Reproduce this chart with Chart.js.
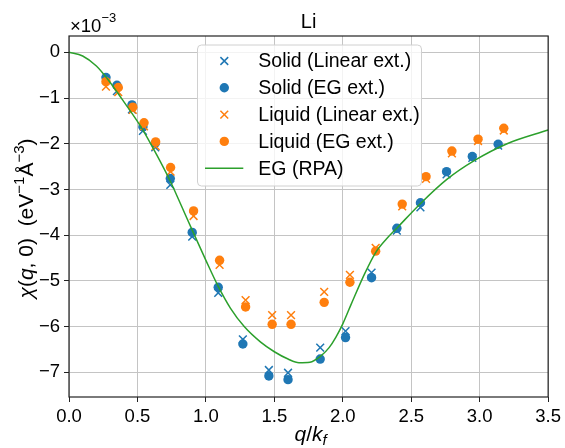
<!DOCTYPE html>
<html>
<head>
<meta charset="utf-8">
<script src="https://cdn.jsdelivr.net/npm/chart.js@4"></script>
<style>
  html, body { margin: 0; padding: 0; background: #fff; }
  #wrap { width: 565px; height: 448px; }
</style>
</head>
<body>
<div id="wrap"><canvas id="chart" width="565" height="448"></canvas></div>
<script>
const FONT = "'Liberation Sans', Arial, sans-serif";

// values (chi in units of 1e-3)
const solidQ = [0.27, 0.35, 0.46, 0.54, 0.63, 0.74, 0.90, 1.09, 1.27, 1.46, 1.60, 1.835, 2.02, 2.21, 2.395, 2.567, 2.758, 2.946, 3.135];
const solidLinear = [-0.60, -0.85, -1.25, -1.72, -2.08, -2.90, -4.03, -5.26, -6.28, -6.95, -7.01, -6.46, -6.10, -4.82, -3.90, -3.39, -2.67, -2.31, -2.04];
const solidEG = [-0.55, -0.72, -1.15, -1.63, -1.99, -2.76, -3.94, -5.14, -6.38, -7.08, -7.16, -6.71, -6.24, -4.93, -3.85, -3.29, -2.61, -2.28, -2.01];

const liquidQ = [0.27, 0.36, 0.466, 0.548, 0.633, 0.742, 0.91, 1.10, 1.29, 1.484, 1.622, 1.864, 2.052, 2.24, 2.434, 2.608, 2.797, 2.988, 3.176];
const liquidLinear = [-0.75, -0.87, -1.26, -1.62, -2.05, -2.61, -3.58, -4.65, -5.42, -5.75, -5.75, -5.24, -4.87, -4.28, -3.37, -2.77, -2.21, -1.94, -1.71];
const liquidEG = [-0.64, -0.77, -1.20, -1.54, -1.96, -2.52, -3.47, -4.55, -5.57, -5.95, -5.95, -5.47, -5.03, -4.35, -3.32, -2.72, -2.16, -1.90, -1.66];

const rpaQ = [0, 0.1, 0.2, 0.28, 0.4, 0.54, 0.64, 0.74, 0.82, 0.9, 1.0, 1.09, 1.18, 1.28, 1.4, 1.5, 1.6, 1.68, 1.76, 1.84, 1.9, 1.95, 2.0, 2.06, 2.16, 2.24, 2.32, 2.4, 2.57, 2.76, 2.96, 3.2, 3.5];
const rpaChi = [0, -0.08, -0.30, -0.58, -1.08, -1.70, -2.24, -2.82, -3.35, -3.89, -4.55, -5.12, -5.60, -6.00, -6.34, -6.55, -6.71, -6.79, -6.78, -6.64, -6.46, -6.23, -5.94, -5.52, -4.84, -4.38, -4.08, -3.83, -3.30, -2.78, -2.37, -2.00, -1.70];

const xTicks = [0, 0.5, 1.0, 1.5, 2.0, 2.5, 3.0, 3.5];
const yTicks = [0, -1, -2, -3, -4, -5, -6, -7];
const seriesNames = ["Solid (Linear ext.)", "Solid (EG ext.)", "Liquid (Linear ext.)", "Liquid (EG ext.)", "EG (RPA)"];

const BLUE = "#1f77b4", ORANGE = "#ff7f0e", GREEN = "#2ca02c";

function pts(xs, ys) {
  return xs.map((x, i) => ({ x: x, y: ys[i] }));
}

function cross(label, data, color, order) {
  return { label, data, order, pointStyle: "crossRot", pointRadius: 5.5, pointBorderWidth: 1.5,
    borderColor: color, backgroundColor: color, pointHoverRadius: 5.5 };
}
function dot(label, data, color, order) {
  return { label, data, order, pointStyle: "circle", pointRadius: 4.7, pointBorderWidth: 0,
    borderWidth: 0, borderColor: color, backgroundColor: color, pointHoverRadius: 4.7 };
}

// draws a run of text pieces (for super/subscripts)
function drawRuns(ctx, parts, x, y, align) {
  let total = 0;
  parts.forEach((p) => {
    ctx.font = p.font;
    p.w = ctx.measureText(p.t).width;
    total += p.w;
  });
  let cx = align === "center" ? x - total / 2 : x;
  parts.forEach((p) => {
    ctx.font = p.font;
    ctx.fillText(p.t, cx, y + (p.dy || 0));
    cx += p.w;
  });
}

const frame = {
  id: "frame",
  afterDatasetsDraw(chart) {
    const { ctx, chartArea: a } = chart;
    ctx.save();
    ctx.strokeStyle = "#222";
    ctx.lineWidth = 1.2;
    ctx.strokeRect(a.left, a.top, a.right - a.left, a.bottom - a.top);
    ctx.restore();
  },
};

const labels = {
  id: "labels",
  afterDraw(chart) {
    const ctx = chart.ctx;
    const a = chart.chartArea;
    ctx.save();
    ctx.fillStyle = "#000";
    ctx.textBaseline = "alphabetic";

    // title
    ctx.font = "20px " + FONT;
    ctx.textAlign = "center";
    ctx.fillText("Li", (a.left + a.right) / 2, 28.3);
    ctx.textAlign = "left";

    // offset text
    drawRuns(ctx, [
      { t: "\u00d710", font: "18.5px " + FONT },
      { t: "\u22123", font: "13px " + FONT, dy: -10 },
    ], 70, 31.7, "left");

    // x label
    drawRuns(ctx, [
      { t: "q", font: "italic 21px " + FONT },
      { t: "/", font: "21px " + FONT },
      { t: "k", font: "italic 21px " + FONT },
      { t: "f", font: "italic 15px " + FONT, dy: 4 },
    ], (a.left + a.right) / 2 + 2, 440.5, "center");

    // y label
    ctx.translate(33, (a.top + a.bottom) / 2 + 2);
    ctx.rotate(-Math.PI / 2);
    drawRuns(ctx, [
      { t: "\u03c7", font: "italic 21px " + FONT },
      { t: "(", font: "21px " + FONT },
      { t: "q", font: "italic 21px " + FONT },
      { t: ", 0)  (eV", font: "21px " + FONT },
      { t: "\u22121", font: "15px " + FONT, dy: -9 },
      { t: "\u00c5", font: "21px " + FONT },
      { t: "\u22123", font: "15px " + FONT, dy: -9 },
      { t: ")", font: "21px " + FONT },
    ], 0, 0, "center");
    ctx.restore();

    // legend box
    const x0 = 197.5, y0 = 45, w = 224, h = 141;
    ctx.save();
    ctx.beginPath();
    ctx.roundRect(x0, y0, w, h, 4);
    ctx.fillStyle = "rgba(255,255,255,0.8)";
    ctx.fill();
    ctx.strokeStyle = "#d0d0d0";
    ctx.lineWidth = 1;
    ctx.stroke();

    const sets = chart.data.datasets;
    seriesNames.forEach((name, i) => {
      const ds = sets[i];
      const ry = 61 + i * 26.8;
      if (ds.showLine) {
        ctx.strokeStyle = ds.borderColor;
        ctx.lineWidth = ds.borderWidth;
        ctx.beginPath();
        ctx.moveTo(205, ry);
        ctx.lineTo(243.3, ry);
        ctx.stroke();
      } else {
        ctx.fillStyle = ds.backgroundColor;
        ctx.strokeStyle = ds.borderColor;
        ctx.lineWidth = ds.pointBorderWidth;
        Chart.helpers.drawPoint(ctx, {
          pointStyle: ds.pointStyle, radius: ds.pointRadius, rotation: 0, borderWidth: ds.pointBorderWidth,
        }, 224.3, ry);
      }
      ctx.fillStyle = "#000";
      ctx.font = "19.5px " + FONT;
      ctx.textBaseline = "middle";
      ctx.fillText(name, 258.3, ry + 1);
    });
    ctx.restore();
  },
};

new Chart(document.getElementById("chart"), {
  type: "scatter",
  data: {
    datasets: [
      cross(seriesNames[0], pts(solidQ, solidLinear), BLUE, 5),
      dot(seriesNames[1], pts(solidQ, solidEG), BLUE, 4),
      cross(seriesNames[2], pts(liquidQ, liquidLinear), ORANGE, 3),
      dot(seriesNames[3], pts(liquidQ, liquidEG), ORANGE, 2),
      {
        label: seriesNames[4], data: pts(rpaQ, rpaChi), order: 1, showLine: true,
        borderColor: GREEN, backgroundColor: GREEN, borderWidth: 1.5, pointRadius: 0,
        cubicInterpolationMode: "monotone", fill: false,
      },
    ],
  },
  options: {
    responsive: false,
    animation: false,
    layout: { padding: { top: 36, right: 13, left: 0, bottom: 0 } },
    plugins: { legend: { display: false }, tooltip: { enabled: false } },
    scales: {
      x: {
        type: "linear", min: 0, max: 3.5,
        afterFit: (s) => { s.height = 51; },
        afterBuildTicks: (s) => { s.ticks = xTicks.map((v) => ({ value: v })); },
        ticks: {
          font: { family: FONT, size: 18.5 }, color: "#000", padding: 4,
          maxRotation: 0, autoSkip: false, callback: (v) => v.toFixed(1),
        },
        grid: { color: "#c4c4c4", lineWidth: 1, tickLength: 5, tickColor: "#222" },
        border: { display: false },
      },
      y: {
        type: "linear", min: -7.54, max: 0.357,
        afterFit: (s) => { s.width = 69; },
        afterBuildTicks: (s) => { s.ticks = yTicks.map((v) => ({ value: v })); },
        ticks: {
          font: { family: FONT, size: 18.5 }, color: "#000", padding: 4,
          callback: (v) => (v === 0 ? "0" : "\u2212" + Math.abs(v)),
        },
        grid: { color: "#c4c4c4", lineWidth: 1, tickLength: 5, tickColor: "#222" },
        border: { display: false },
      },
    },
  },
  plugins: [frame, labels],
});
</script>
</body>
</html>
